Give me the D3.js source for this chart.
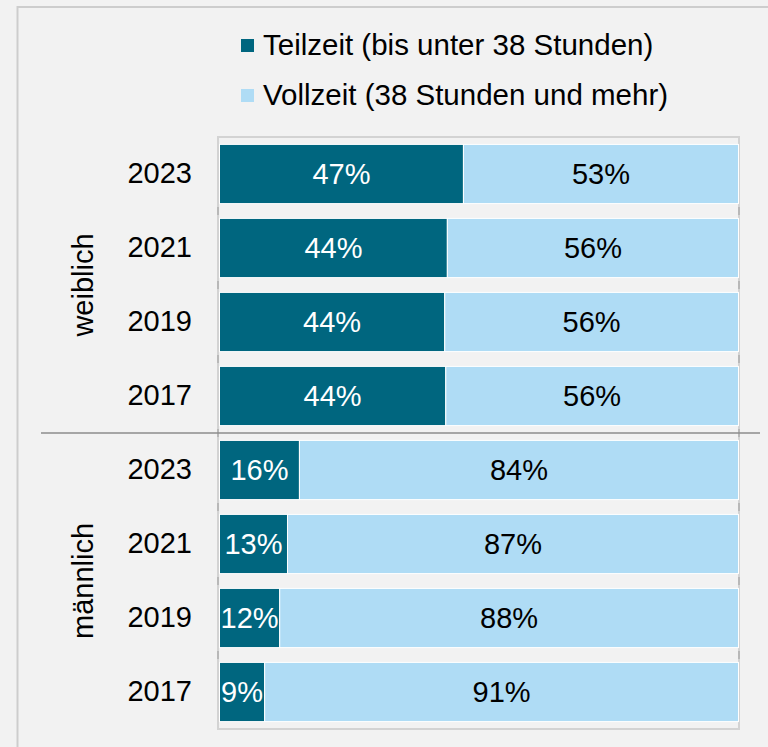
<!DOCTYPE html>
<html>
<head>
<meta charset="utf-8">
<script src="https://cdn.jsdelivr.net/npm/d3@7"></script>
<style>
	html, body { margin: 0; padding: 0; background: #f2f2f2; }
	svg { display: block; font-family: "Liberation Sans", Arial, sans-serif; }
</style>
</head>
<body>
<svg width="768" height="747"></svg>
<script>
// data (share in percent)
const groups = ["weiblich", "männlich"];
const years = ["2023", "2021", "2019", "2017"];
const teilzeitW = [47.0, 43.9, 43.4, 43.6];
const teilzeitM = [15.4, 13.1, 11.6, 8.7];
const vollzeitW = [53.0, 56.1, 56.6, 56.4];
const vollzeitM = [84.6, 86.9, 88.4, 91.3];
const teilzeitLabels = ["47%", "44%", "44%", "44%", "16%", "13%", "12%", "9%"];
const vollzeitLabels = ["53%", "56%", "56%", "56%", "84%", "87%", "88%", "91%"];
const seriesNames = ["Teilzeit (bis unter 38 Stunden)", "Vollzeit (38 Stunden und mehr)"];
const colors = ["#00667f", "#afdcf5"];

const rows = [];
groups.forEach((g, gi) => {
	years.forEach((y, yi) => {
		const i = gi * years.length + yi;
		rows.push({
			key: g + "|" + y,
			group: g,
			year: y,
			teil: gi === 0 ? teilzeitW[yi] : teilzeitM[yi],
			voll: gi === 0 ? vollzeitW[yi] : vollzeitM[yi],
			teilLabel: teilzeitLabels[i],
			vollLabel: vollzeitLabels[i],
		});
	});
});

const svg = d3.select("svg");
const fontSize = 29;

// outer frame
svg.append("rect")
	.attr("x", 17.5).attr("y", 7)
	.attr("width", 900).attr("height", 900)
	.attr("fill", "#f2f2f2")
	.attr("stroke", "#cdcdcd")
	.attr("stroke-width", 2);

const plot = { left: 218, right: 739, top: 137, bottom: 729 };

const x = d3.scaleLinear().domain([0, 100]).range([plot.left + 1.5, plot.right - 0.5]);
const y = d3.scaleBand()
	.domain(rows.map((d) => d.key))
	.range([plot.top, plot.bottom])
	.paddingInner(0.2)
	.paddingOuter(0.1);

// plot area border
svg.append("rect")
	.attr("x", plot.left).attr("y", plot.top)
	.attr("width", plot.right - plot.left)
	.attr("height", plot.bottom - plot.top)
	.attr("fill", "none")
	.attr("stroke", "#d3d3d3")
	.attr("stroke-width", 2);

// small tick marks between categories
const gapY = rows.slice(1).map((d) => y(d.key) - (y.step() * y.paddingInner()) / 2);
[plot.left, plot.right].forEach((px) => {
	svg.append("g").selectAll("line").data(gapY).join("line")
		.attr("x1", px).attr("x2", px)
		.attr("y1", (d) => d - 4).attr("y2", (d) => d + 4)
		.attr("stroke", "#b8b8b8")
		.attr("stroke-width", 2);
});

// bars
const bars = svg.append("g");
bars.selectAll("rect.teil").data(rows).join("rect")
	.attr("class", "teil")
	.attr("x", x(0))
	.attr("y", (d) => y(d.key))
	.attr("width", (d) => x(d.teil) - x(0))
	.attr("height", y.bandwidth())
	.attr("fill", colors[0])
	.attr("stroke", "#ffffff")
	.attr("stroke-width", 1);

bars.selectAll("rect.voll").data(rows).join("rect")
	.attr("class", "voll")
	.attr("x", (d) => x(d.teil))
	.attr("y", (d) => y(d.key))
	.attr("width", (d) => x(d.teil + d.voll) - x(d.teil))
	.attr("height", y.bandwidth())
	.attr("fill", colors[1])
	.attr("stroke", "#ffffff")
	.attr("stroke-width", 1);

// value labels
bars.selectAll("text.teil").data(rows).join("text")
	.attr("x", (d) => (x(0) + x(d.teil)) / 2)
	.attr("y", (d) => y(d.key) + y.bandwidth() / 2)
	.attr("dy", "0.35em")
	.attr("text-anchor", "middle")
	.attr("font-size", fontSize)
	.attr("fill", "#ffffff")
	.text((d) => d.teilLabel);

bars.selectAll("text.voll").data(rows).join("text")
	.attr("x", (d) => (x(d.teil) + x(d.teil + d.voll)) / 2)
	.attr("y", (d) => y(d.key) + y.bandwidth() / 2)
	.attr("dy", "0.35em")
	.attr("text-anchor", "middle")
	.attr("font-size", fontSize)
	.attr("fill", "#000000")
	.text((d) => d.vollLabel);

// year axis
const yAxis = d3.axisLeft(y)
	.tickSize(0)
	.tickPadding(26)
	.tickFormat((k) => k.split("|")[1]);

const axisG = svg.append("g")
	.attr("transform", `translate(${plot.left},0)`)
	.call(yAxis);
axisG.select(".domain").remove();
axisG.selectAll("text")
	.attr("font-size", fontSize)
	.attr("font-family", "Liberation Sans, Arial, sans-serif")
	.attr("fill", "#000000");

// group labels
groups.forEach((g) => {
	const keys = rows.filter((d) => d.group === g).map((d) => d.key);
	const cy = (y(keys[0]) + y(keys[keys.length - 1]) + y.bandwidth()) / 2;
	svg.append("text")
		.attr("transform", `translate(93,${cy}) rotate(-90)`)
		.attr("text-anchor", "middle")
		.attr("font-size", fontSize)
		.attr("fill", "#000000")
		.text(g);
});

// separator between groups
const sepY = y(rows[years.length].key) - (y.step() * y.paddingInner()) / 2;
svg.append("line")
	.attr("x1", 41).attr("x2", 760)
	.attr("y1", sepY).attr("y2", sepY)
	.attr("stroke", "#8c8c8c")
	.attr("stroke-width", 1.5);

// legend
const legend = svg.append("g").selectAll("g").data(seriesNames).join("g")
	.attr("transform", (d, i) => `translate(241,${39 + i * 50})`);
legend.append("rect")
	.attr("width", 13).attr("height", 13)
	.attr("fill", (d, i) => colors[i]);
legend.append("text")
	.attr("x", 22).attr("y", 16)
	.attr("font-size", 29.5)
	.attr("fill", "#000000")
	.text((d) => d);
</script>
</body>
</html>
